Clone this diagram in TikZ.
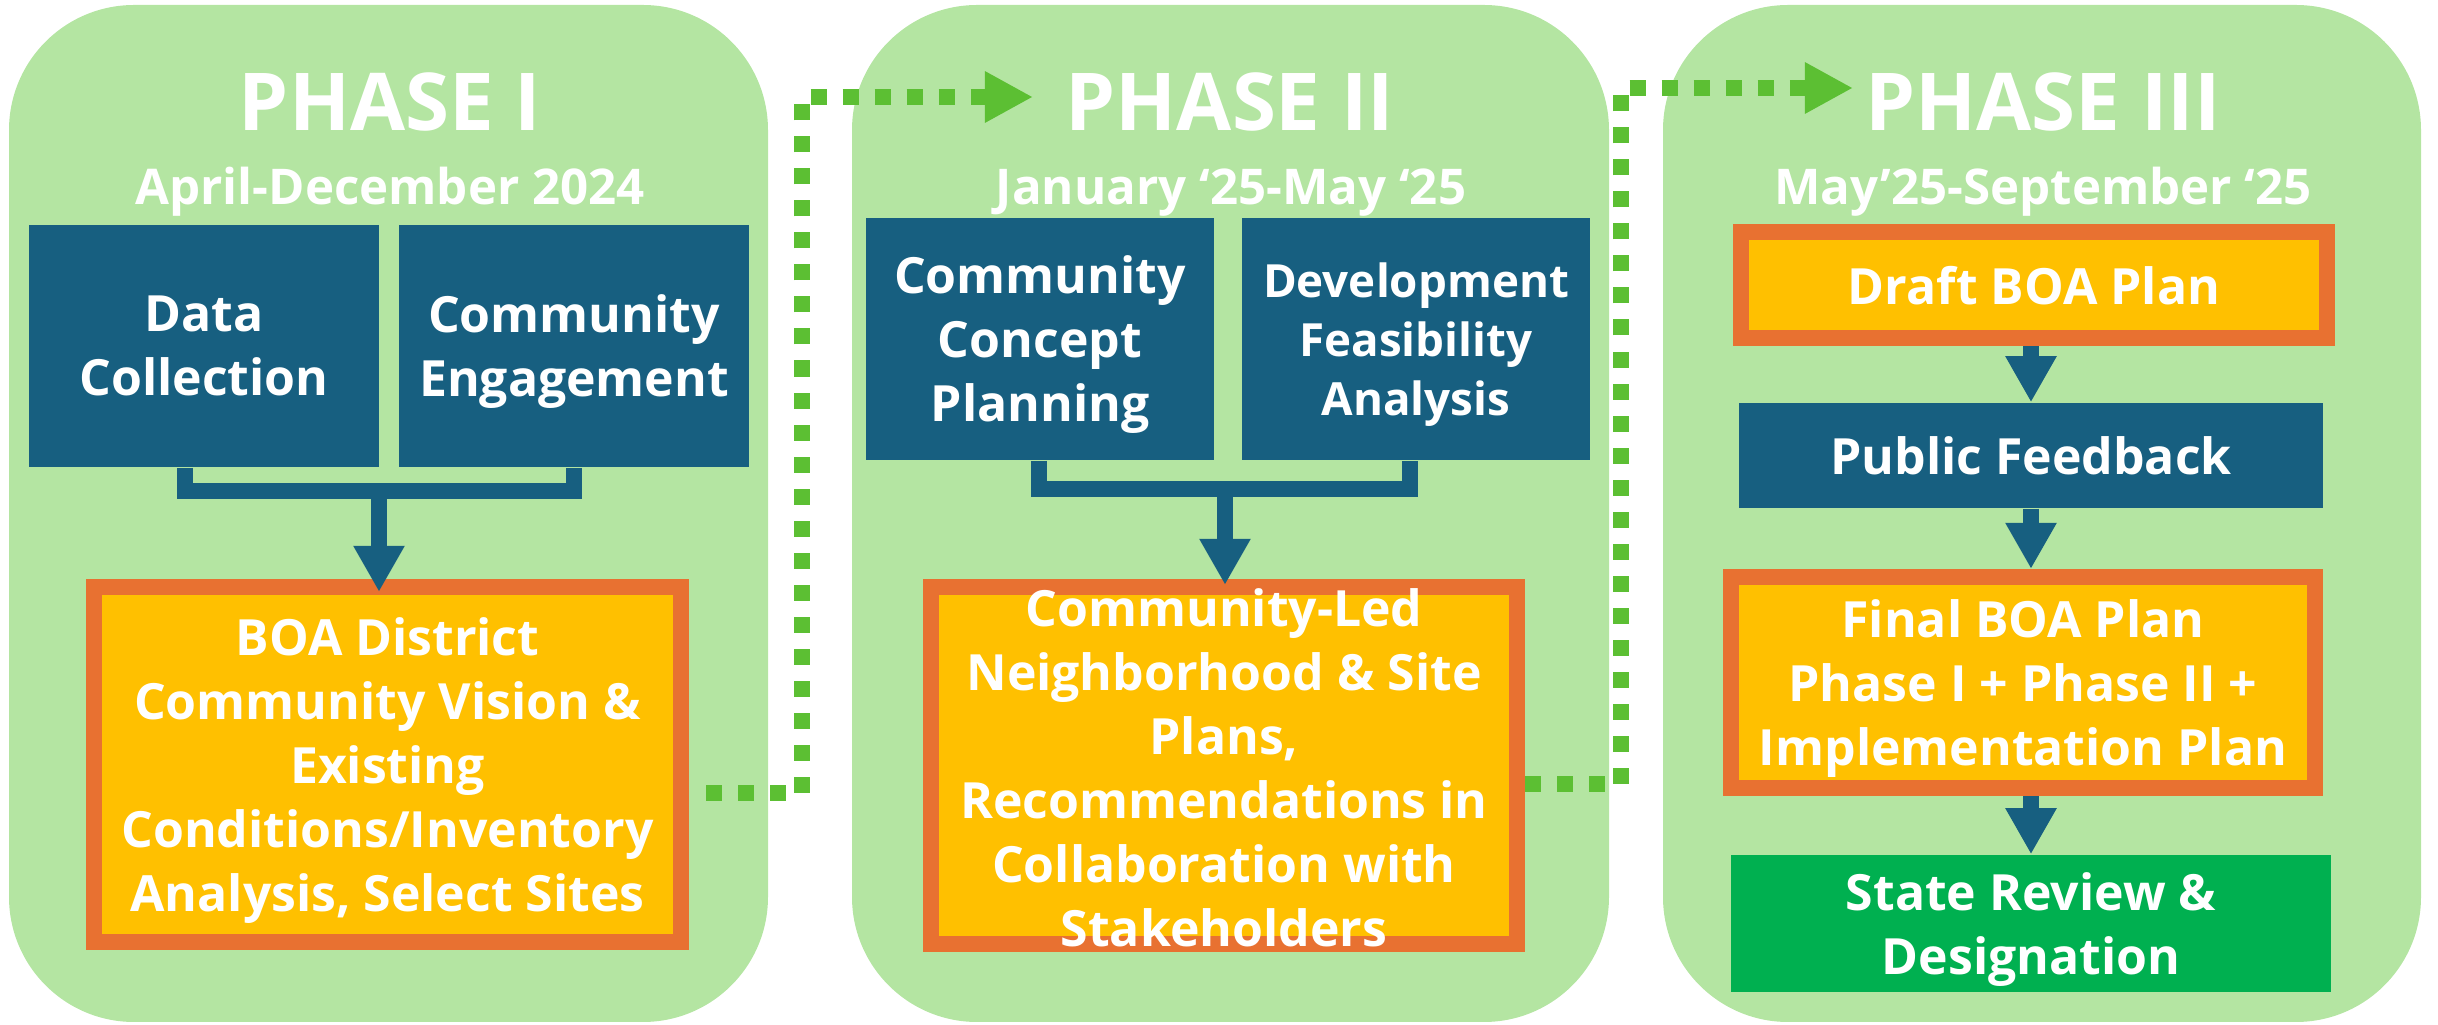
\documentclass[tikz,border=0pt]{standalone}
\usepackage{fontspec}
\setmainfont{Open Sans}
\usetikzlibrary{arrows.meta}
\definecolor{panelgreen}{HTML}{B4E5A2}
\definecolor{tealblue}{HTML}{175F80}
\definecolor{planorange}{HTML}{E87131}
\definecolor{plangold}{HTML}{FFC000}
\definecolor{stategreen}{HTML}{00B050}
\definecolor{dotgreen}{HTML}{5CBF33}
\tikzset{
	panel/.style={fill=panelgreen, rounded corners=1.25cm},
	phasetitle/.style={text=white, inner sep=0pt, anchor=base, font=\fontsize{22.7}{26}\selectfont\bfseries},
	dates/.style={text=white, inner sep=0pt, anchor=base, font=\fontsize{14}{17}\selectfont\bfseries},
	task/.style={fill=tealblue, text=white, align=center, inner sep=0pt, text depth=-0.5pt, font=\fontsize{14.2}{18.2}\selectfont\bfseries},
	plan/.style={task, fill=plangold, draw=planorange, line width=0.16cm},
	bar/.style={draw=tealblue, line width=0.16cm},
	flow/.style={bar, -{Triangle[length=0.46cm, width=0.48cm]}},
	dots/.style={draw=dotgreen, line width=0.16cm, dash pattern=on 0.16cm off 0.16cm, -{Triangle[length=0.48cm, width=0.48cm, fill=dotgreen]}}
}
\begin{document}
\begin{tikzpicture}[x=0.01cm, y=-0.01cm]
	\useasboundingbox (0,0) rectangle (2438,1025);
	\fill[panel] (9,5) rectangle (768,1022);
	\fill[panel] (852,5) rectangle (1609,1022);
	\fill[panel] (1663,5) rectangle (2421,1022);

	% phase I
	\node[phasetitle] (t1) at (390,131) {PHASE I};
	\node[dates] at (390,205) {April-December 2024};
	\node[task, minimum width=3.5cm, minimum height=2.42cm] (dc) at (204,346) {Data\\Collection};
	\node[task, minimum width=3.5cm, minimum height=2.42cm] (ce) at (574,346) {Community\\Engagement};
	\node[plan, minimum width=5.87cm, minimum height=3.55cm] (boa1) at (387.5,764.5) {BOA District\\Community Vision \&\\Existing\\Conditions/Inventory\\Analysis, Select Sites};
	\coordinate (j1) at (379,491);
	\draw[bar] ([xshift=-0.19cm]dc.south) |- (j1) -| (ce.south);
	\draw[flow, shorten >=-0.13cm] (j1) -- (j1 |- boa1.north);

	% phase II
	\node[phasetitle] (t2) at (1230,131) {PHASE II};
	\node[dates] at (1231,205) {January ‘25-May ‘25};
	\node[task, minimum width=3.48cm, minimum height=2.42cm] (ccp) at (1040,339) {Community\\Concept\\Planning};
	\node[task, minimum width=3.48cm, minimum height=2.42cm, font=\fontsize{13}{16.8}\selectfont\bfseries] (dfa) at (1416,339) {Development\\Feasibility\\Analysis};
	\node[plan, minimum width=5.86cm, minimum height=3.57cm] (boa2) at (1224,765.5) {};
	\node[task, fill=none] at (1224,768) {Community-Led\\Neighborhood \& Site\\Plans,\\Recommendations in\\Collaboration with\\Stakeholders};
	\coordinate (j2) at (1225,489);
	\draw[bar] ([xshift=-0.01cm]ccp.south) |- (j2) -| ([xshift=-0.06cm]dfa.south);
	\draw[flow, shorten >=-0.06cm] (j2) -- (j2 |- boa2.north);

	% phase III
	\node[phasetitle] (t3) at (2043,131) {PHASE III};
	\node[dates] at (2043,205) {May’25-September ‘25};
	\node[plan, minimum width=5.86cm, minimum height=1.06cm] (draft) at (2034,285) {Draft BOA Plan};
	\node[task, minimum width=5.84cm, minimum height=1.05cm] (pf) at (2031,455.5) {Public Feedback};
	\node[plan, minimum width=5.84cm, minimum height=2.11cm] (final) at (2023,682.5) {Final BOA Plan\\Phase I + Phase II +\\Implementation Plan};
	\node[task, fill=stategreen, minimum width=6cm, minimum height=1.37cm] (state) at (2031,923.5) {State Review \&\\Designation};
	\foreach \a/\b in {draft/pf, pf/final, final/state}
		\draw[flow] (\a.south -| 2031,0) -- (\b.north -| 2031,0);

	% links between phases
	\coordinate (in2) at (1033,97);
	\coordinate (in3) at (1853,88);
	\draw[dots, shorten <=0.17cm] (boa1.east |- 0,793) -| (802,97) -- (in2);
	\draw[dots] (boa2.east |- 0,784) -| (1621,88) -- (in3);
\end{tikzpicture}
\end{document}
